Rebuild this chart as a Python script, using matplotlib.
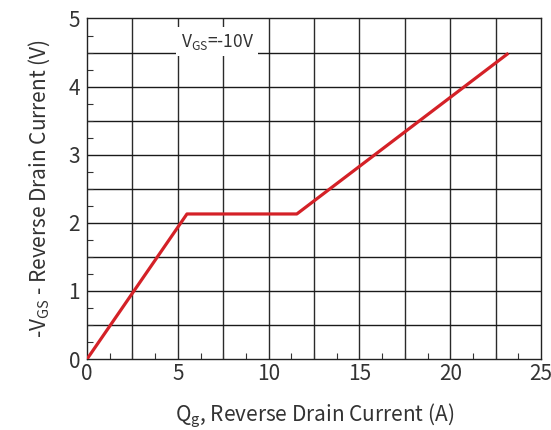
import numpy as np
import matplotlib
matplotlib.use('Agg')
import matplotlib.pyplot as plt
from matplotlib.ticker import MultipleLocator

# curve break points
qg = [0.0, 5.5, 11.55, 23.2]
vgs = [0.0, 2.13, 2.13, 4.49]

x_ticks = [0, 5, 10, 15, 20, 25]
y_ticks = [0, 1, 2, 3, 4, 5]

plt.rcParams['font.family'] = ['Noto Sans CJK SC', 'DejaVu Sans']
plt.rcParams['font.weight'] = 'light'
plt.rcParams['mathtext.default'] = 'regular'
txt = '#333333'


def main():
    fig = plt.figure(figsize=(5.51, 4.30), dpi=100)
    ax = fig.add_axes([0.158, 0.165, 0.824, 0.792])

    ax.set_xlim(0, 25)
    ax.set_ylim(0, 5)

    # grid: every 2.5 on x, every 0.5 on y
    for gx in np.arange(2.5, 25, 2.5):
        ax.axvline(gx, color='#2a2a2a', lw=1.0, zorder=1)
    for gy in np.arange(0.5, 5, 0.5):
        ax.axhline(gy, color='#1a1a1a', lw=1.0, zorder=1)

    ax.plot(qg, vgs, color='#d42127', lw=2.3, zorder=3, solid_capstyle='butt')

    ax.text(5.15, 4.66, 'V$_{GS}$=-10V', fontsize=12.5, color=txt, va='center',
            ha='left', zorder=4,
            bbox=dict(facecolor='white', edgecolor='none', pad=3))

    ax.set_xticks(x_ticks)
    ax.set_yticks(y_ticks)
    ax.xaxis.set_minor_locator(MultipleLocator(1.25))
    ax.yaxis.set_minor_locator(MultipleLocator(0.25))
    ax.tick_params(which='both', direction='in', length=4, width=0.8,
                   colors='#333333', labelsize=15, labelcolor=txt, pad=3)
    ax.tick_params(which='major', length=0)
    ax.tick_params(axis='y', pad=5)

    for s in ax.spines.values():
        s.set_color('#222222')
        s.set_linewidth(1.0)

    ax.set_xlabel('Q$_g$, Reverse Drain Current (A)', fontsize=15, color=txt,
                  labelpad=12)
    ax.set_ylabel('-V$_{GS}$ - Reverse Drain Current (V)', fontsize=15,
                  color=txt, labelpad=12)

    fig.savefig('out.png', dpi=100)


if __name__ == '__main__':
    main()
